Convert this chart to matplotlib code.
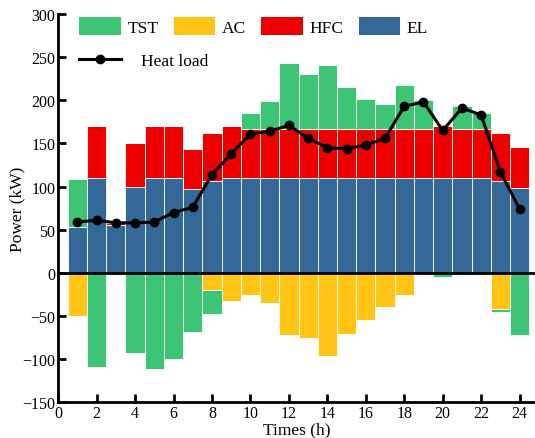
import matplotlib
matplotlib.use("Agg")
import matplotlib.pyplot as plt
import numpy as np
from matplotlib.lines import Line2D
from matplotlib.patches import Patch

plt.rcParams['font.family'] = ['Liberation Serif', 'DejaVu Serif']
plt.rcParams['mathtext.fontset'] = 'stix'

hours = list(range(1, 25))
el = [53, 110, 55, 100, 110, 110, 97, 106, 110, 110, 110, 110,
      110, 110, 110, 110, 110, 110, 110, 110, 110, 110, 106, 98]
hfc = [0, 60, 3, 50, 60, 60, 47, 56, 60, 57, 57, 57,
       57, 57, 57, 57, 57, 57, 57, 60, 57, 57, 56, 48]
tst = [56, -109, 0, -93, -111, -100, -68, -28, 0, 18, 32, 76,
       63, 74, 48, 35, 29, 51, 33, -5, 26, 18, -3, -72]
ac = [-50, 0, 0, 0, 0, 0, 0, -20, -33, -25, -35, -72,
      -75, -96, -71, -54, -40, -25, 0, 0, 0, 0, -42, 0]
heat_load = [59, 61, 58, 58, 59, 70, 76, 114, 138, 161, 164, 171,
             156, 145, 144, 148, 156, 193, 198, 165, 191, 183, 117, 74]

c_tst = '#3DC474'
c_ac = '#FFC414'
c_hfc = '#EE0000'
c_el = '#346899'

x = np.array(hours)
el_a = np.array(el, float)
hfc_a = np.array(hfc, float)
tst_a = np.array(tst, float)
ac_a = np.array(ac, float)

# TST charging sits on top of EL+HFC; discharging hangs below AC
tst_pos = np.clip(tst_a, 0, None)
tst_neg = np.clip(tst_a, None, 0)

fig = plt.figure(figsize=(5.35, 4.39), dpi=100)
ax = fig.add_axes([0.1088, 0.081, 0.8912, 0.885])

bw = 1.0
kw = dict(width=bw, edgecolor='white', linewidth=0.6, zorder=2)
ax.bar(x, el_a, color=c_el, **kw)
ax.bar(x, hfc_a, bottom=el_a, color=c_hfc, **kw)
ax.bar(x, tst_pos, bottom=el_a + hfc_a, color=c_tst, **kw)
ax.bar(x, ac_a, color=c_ac, **kw)
ax.bar(x, tst_neg, bottom=ac_a, color=c_tst, **kw)

ax.axhline(0, color='black', lw=2.0, zorder=3)
ax.plot(x, heat_load, color='black', lw=2.2, marker='o', ms=6, zorder=4)

ax.set_xlim(0, 24.8)
ax.set_ylim(-150, 300)
ax.set_xticks(range(0, 25, 2))
ax.set_yticks(range(-150, 301, 50))

for s in ['top', 'right']:
    ax.spines[s].set_visible(False)
for s in ['left', 'bottom']:
    ax.spines[s].set_linewidth(2.0)
ax.tick_params(direction='in', length=6, width=2.0, labelsize=11.5, pad=2)

ax.set_xlabel('Times (h)', fontsize=12.5, labelpad=0)
ax.set_ylabel('Power (kW)', fontsize=12.5)
ax.yaxis.set_label_coords(-0.068, 0.5)

handles = [Patch(facecolor=c, edgecolor='none') for c in (c_tst, c_ac, c_hfc, c_el)]
leg1 = ax.legend(handles, ['TST', 'AC', 'HFC', 'EL'], ncol=4, loc='upper left',
                 bbox_to_anchor=(0.03, 1.01), frameon=False, fontsize=12.5,
                 handlelength=2.4, handleheight=1.25, handletextpad=0.35,
                 columnspacing=0.9, borderaxespad=0)
ax.add_artist(leg1)
line_h = Line2D([], [], color='black', lw=2.2, marker='o', ms=6)
ax.legend([line_h], ['Heat load'], loc='upper left', bbox_to_anchor=(0.03, 0.917),
          frameon=False, fontsize=12.5, handlelength=2.4, handletextpad=1.15,
          borderaxespad=0)

fig.savefig('out.png', dpi=100)
